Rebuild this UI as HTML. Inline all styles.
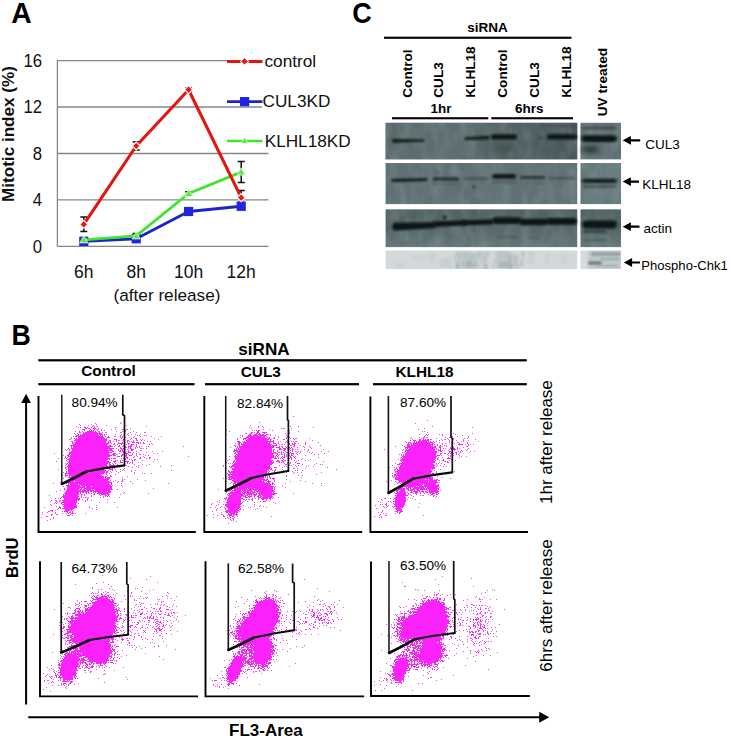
<!DOCTYPE html>
<html><head><meta charset="utf-8"><title>Figure</title>
<style>
html,body{margin:0;padding:0;background:#fff;}
body{width:732px;height:739px;overflow:hidden;font-family:"Liberation Sans",sans-serif;}
svg{display:block;font-family:"Liberation Sans",sans-serif;}
.b{font-weight:bold}
</style></head><body>
<svg width="732" height="739" viewBox="0 0 732 739">
<defs>
<filter id="bl1" x="-20%" y="-100%" width="140%" height="300%"><feGaussianBlur stdDeviation="1.1 0.9"/></filter>
<filter id="bl2" x="-20%" y="-100%" width="140%" height="300%"><feGaussianBlur stdDeviation="1.6 1.3"/></filter>
<filter id="bl3" x="-20%" y="-100%" width="140%" height="300%"><feGaussianBlur stdDeviation="3 2.2"/></filter>
<filter id="soft" x="-5%" y="-5%" width="110%" height="110%"><feGaussianBlur stdDeviation="0.45"/></filter>
<filter id="noise" x="0" y="0" width="100%" height="100%"><feTurbulence type="fractalNoise" baseFrequency="0.09 0.05" numOctaves="3" seed="4"/><feColorMatrix type="matrix" values="0 0 0 0 0.45  0 0 0 0 0.54  0 0 0 0 0.56  1.2 1.2 0 0 -0.95"/><feComposite in2="SourceGraphic" operator="in"/></filter>
</defs>
<rect width="732" height="739" fill="#fff"/>

<g id="A">
<text transform="translate(11.3,22.7) scale(0.96,1)" class="b" font-size="29.5">A</text>
<line x1="57.4" y1="60.6" x2="262" y2="60.6" stroke="#808b89" stroke-width="1.3"/>
<line x1="57.4" y1="107" x2="262" y2="107" stroke="#808b89" stroke-width="1.3"/>
<line x1="57.4" y1="153.5" x2="268.5" y2="153.5" stroke="#808b89" stroke-width="1.3"/>
<line x1="57.4" y1="199.9" x2="268.5" y2="199.9" stroke="#808b89" stroke-width="1.3"/>
<line x1="57.4" y1="246.3" x2="268.5" y2="246.3" stroke="#808b89" stroke-width="1.3"/>
<line x1="57.4" y1="60" x2="57.4" y2="246.6" stroke="#808b89" stroke-width="1.3"/>
<text transform="translate(42,66.8) scale(0.95,1)" font-size="17.6" text-anchor="end" fill="#111">16</text>
<text transform="translate(42,113.2) scale(0.95,1)" font-size="17.6" text-anchor="end" fill="#111">12</text>
<text transform="translate(42,159.7) scale(0.95,1)" font-size="17.6" text-anchor="end" fill="#111">8</text>
<text transform="translate(42,206.1) scale(0.95,1)" font-size="17.6" text-anchor="end" fill="#111">4</text>
<text transform="translate(42,252.5) scale(0.95,1)" font-size="17.6" text-anchor="end" fill="#111">0</text>
<text transform="translate(14,202) rotate(-90)" class="b" font-size="17" textLength="136" lengthAdjust="spacingAndGlyphs" fill="#111">Mitotic index (%)</text>
<text x="83.8" y="278" font-size="17.5" text-anchor="middle" fill="#111">6h</text>
<text x="136.2" y="278" font-size="17.5" text-anchor="middle" fill="#111">8h</text>
<text x="188.6" y="278" font-size="17.5" text-anchor="middle" fill="#111">10h</text>
<text x="241.2" y="278" font-size="17.5" text-anchor="middle" fill="#111">12h</text>
<text x="167" y="301" font-size="17.2" text-anchor="middle" fill="#111">(after release)</text>
<path d="M83.8 217.1V231.5M80.3 217.1h7M80.3 231.5h7" stroke="#111" stroke-width="1.5" fill="none"/>
<path d="M136.2 141.9V150.0M132.7 141.9h7M132.7 150.0h7" stroke="#111" stroke-width="1.5" fill="none"/>
<path d="M188.6 88.0V91.4M185.1 88.0h7M185.1 91.4h7" stroke="#111" stroke-width="1.5" fill="none"/>
<path d="M241.2 190.6V204.5M237.7 190.6h7M237.7 204.5h7" stroke="#111" stroke-width="1.5" fill="none"/>
<path d="M241.2 161.6V182.5M237.7 161.6h7M237.7 182.5h7" stroke="#111" stroke-width="1.5" fill="none"/>
<path d="M241.2 202.2V209.2M237.7 202.2h7M237.7 209.2h7" stroke="#111" stroke-width="1.5" fill="none"/>
<path d="M188.6 191.8V195.3M185.1 191.8h7M185.1 195.3h7" stroke="#111" stroke-width="1.5" fill="none"/>
<path d="M136.2 233.5V237.0M132.7 233.5h7M132.7 237.0h7" stroke="#111" stroke-width="1.5" fill="none"/>
<path d="M83.8 237.6V241.1M80.3 237.6h7M80.3 241.1h7" stroke="#111" stroke-width="1.5" fill="none"/>
<polyline points="83.8,241.4 136.2,238.8 188.6,211.5 241.2,206.3" fill="none" stroke="#1c22cc" stroke-width="2.9" stroke-linejoin="round" stroke-linecap="round"/>
<rect x="79.2" y="236.8" width="9.2" height="9.2" fill="#2026e0"/>
<rect x="131.6" y="234.2" width="9.2" height="9.2" fill="#2026e0"/>
<rect x="184.0" y="206.9" width="9.2" height="9.2" fill="#2026e0"/>
<rect x="236.6" y="201.7" width="9.2" height="9.2" fill="#2026e0"/>
<polyline points="83.8,239.9 136.2,235.9 188.6,193.5 241.2,172.1" fill="none" stroke="#3fe52c" stroke-width="2.8" stroke-linejoin="round" stroke-linecap="round"/>
<path d="M83.8 235.7L87.8 242.9H79.8Z" fill="#5aea45" stroke="#e9ffe0" stroke-width="0.8"/>
<path d="M136.2 231.7L140.2 238.9H132.2Z" fill="#5aea45" stroke="#e9ffe0" stroke-width="0.8"/>
<path d="M188.6 189.3L192.6 196.5H184.6Z" fill="#5aea45" stroke="#e9ffe0" stroke-width="0.8"/>
<path d="M241.2 167.9L245.2 175.1H237.2Z" fill="#5aea45" stroke="#e9ffe0" stroke-width="0.8"/>
<polyline points="83.8,224.3 136.2,146.0 188.6,89.7 241.2,197.6" fill="none" stroke="#e41410" stroke-width="3.1" stroke-linejoin="round" stroke-linecap="round"/>
<path d="M83.8 220.3L87.8 224.3L83.8 228.3L79.8 224.3Z" fill="#e41a14" stroke="#fff" stroke-width="1.1"/>
<path d="M136.2 142.0L140.2 146.0L136.2 150.0L132.2 146.0Z" fill="#e41a14" stroke="#fff" stroke-width="1.1"/>
<path d="M188.6 85.7L192.6 89.7L188.6 93.7L184.6 89.7Z" fill="#e41a14" stroke="#fff" stroke-width="1.1"/>
<path d="M241.2 193.6L245.2 197.6L241.2 201.6L237.2 197.6Z" fill="#e41a14" stroke="#fff" stroke-width="1.1"/>
<line x1="227" y1="61.4" x2="262.5" y2="61.4" stroke="#e41410" stroke-width="3"/>
<path d="M244.5 57.4l4 4l-4 4l-4-4z" fill="#e41a14" stroke="#fff" stroke-width="1.1"/>
<text x="264.5" y="67.3" font-size="17.2" fill="#111">control</text>
<line x1="227" y1="101.6" x2="262.5" y2="101.6" stroke="#1c22cc" stroke-width="2.7"/>
<rect x="240" y="97" width="9.2" height="9.2" fill="#2026e0"/>
<text x="262.5" y="107.2" font-size="17.2" fill="#111">CUL3KD</text>
<line x1="227" y1="141" x2="262.5" y2="141" stroke="#3fe52c" stroke-width="2.6"/>
<path d="M244.5 137l3.6 6.4h-7.2z" fill="#5aea45" stroke="#e9ffe0" stroke-width="0.8"/>
<text x="264.7" y="147.2" font-size="17.2" fill="#111">KLHL18KD</text>
</g>
<g id="C">
<text transform="translate(352.3,22.7) scale(0.92,1)" class="b" font-size="29.5">C</text>
<text x="487.5" y="32" class="b" font-size="13.5" text-anchor="middle">siRNA</text>
<rect x="384" y="36.7" width="187.5" height="2.1" fill="#000"/>
<text transform="translate(411.7,97.7) rotate(-90)" class="b" font-size="13.6">Control</text>
<text transform="translate(443.4,97.7) rotate(-90)" class="b" font-size="13.6">CUL3</text>
<text transform="translate(475.2,97.7) rotate(-90)" class="b" font-size="13.6">KLHL18</text>
<text transform="translate(507.0,97.7) rotate(-90)" class="b" font-size="13.6">Control</text>
<text transform="translate(538.7,97.7) rotate(-90)" class="b" font-size="13.6">CUL3</text>
<text transform="translate(570.7,97.7) rotate(-90)" class="b" font-size="13.6">KLHL18</text>
<text transform="translate(606.8,116.3) rotate(-90)" class="b" font-size="13.7">UV treated</text>
<text x="441" y="112.7" class="b" font-size="13.5" text-anchor="middle">1hr</text>
<text x="529.3" y="112.7" class="b" font-size="13.5" text-anchor="middle">6hrs</text>
<rect x="392" y="117.2" width="96.3" height="2.1" fill="#000"/>
<rect x="491.3" y="117.2" width="81.7" height="2.1" fill="#000"/>
<linearGradient id="g3" x1="0" y1="0" x2="0" y2="1"><stop offset="0" stop-color="#4f605f"/><stop offset="0.55" stop-color="#56686a"/><stop offset="1" stop-color="#637679"/></linearGradient>
<linearGradient id="g1" x1="0" y1="0" x2="1" y2="0"><stop offset="0" stop-color="#5b6d6e" stop-opacity="0.6"/><stop offset="0.35" stop-color="#617374" stop-opacity="0.7"/><stop offset="0.62" stop-color="#4c5c5e" stop-opacity="0.5"/><stop offset="1" stop-color="#46575a" stop-opacity="0.8"/></linearGradient>
<rect x="385.6" y="122.8" width="191.6" height="36.8" fill="#546566"/>
<rect x="580.5" y="122.8" width="40.5" height="36.8" fill="#5f7174"/>
<rect x="385.6" y="163" width="191.6" height="41.3" fill="#5f7174"/>
<rect x="580.5" y="163" width="40.5" height="41.3" fill="#65787b"/>
<rect x="385.6" y="209.2" width="191.6" height="37.9" fill="url(#g3)"/>
<rect x="580.5" y="209.2" width="40.5" height="37.9" fill="url(#g3)"/>
<rect x="385.6" y="250.5" width="191.6" height="18.5" fill="#d3d9db"/>
<rect x="580.5" y="250.5" width="40.5" height="18.5" fill="#d6dcde"/>
<rect x="385.6" y="122.8" width="191.6" height="36.8" fill="url(#g1)"/>
<g opacity="0.24"><rect x="385.6" y="122.8" width="191.6" height="124.3" filter="url(#noise)"/><rect x="580.5" y="122.8" width="40.5" height="124.3" filter="url(#noise)"/></g>
<rect x="380" y="159.6" width="245" height="3.4" fill="#fff"/>
<rect x="380" y="204.3" width="245" height="4.9" fill="#fff"/>
<path d="M393 139.1L424 139.4Q425.0 140.4 424 141.4L393 142.7Q391.2 140.9 393 139.1Z" fill="#0c1414" opacity="0.95" filter="url(#bl1)"/>
<path d="M465 137.3L489 135.7Q490.9 137.6 489 139.5L465 139.9Q463.7 138.6 465 137.3Z" fill="#0c1414" opacity="0.9" filter="url(#bl1)"/>
<rect x="491" y="134.2" width="26.0" height="5.4" rx="2.7" fill="#0c1414" opacity="1" filter="url(#bl1)"/>
<rect x="494" y="144.0" width="20.0" height="8" rx="4.0" fill="#0c1414" opacity="0.18" filter="url(#bl3)"/>
<rect x="538" y="136.2" width="7.0" height="2.5" rx="1.25" fill="#0c1414" opacity="0.3" filter="url(#bl1)"/>
<rect x="547" y="134.2" width="30.0" height="5.4" rx="2.7" fill="#0c1414" opacity="1" filter="url(#bl1)"/>
<rect x="540" y="125.0" width="36.0" height="2" rx="1.0" fill="#0c1414" opacity="0.25" filter="url(#bl2)"/>
<rect x="581.5" y="135.3" width="35.5" height="6.6" rx="3.3" fill="#0c1414" opacity="1" filter="url(#bl2)"/>
<rect x="582" y="126.8" width="34.0" height="2.4" rx="1.2" fill="#0c1414" opacity="0.45" filter="url(#bl2)"/>
<rect x="582" y="146.0" width="16.0" height="7" rx="3.5" fill="#0c1414" opacity="0.6" filter="url(#bl3)"/>
<path d="M392 178.7L427 178.3Q428.3 179.6 427 180.9L392 181.9Q390.4 180.3 392 178.7Z" fill="#0c1414" opacity="0.9" filter="url(#bl1)"/>
<rect x="432.5" y="177.5" width="26.5" height="3" rx="1.5" fill="#0c1414" opacity="0.75" filter="url(#bl1)"/>
<rect x="464" y="177.5" width="24.0" height="2.2" rx="1.1" fill="#0c1414" opacity="0.38" filter="url(#bl1)"/>
<rect x="492" y="174.1" width="24.0" height="4.6" rx="2.3" fill="#0c1414" opacity="0.95" filter="url(#bl1)"/>
<rect x="520" y="176.1" width="25.0" height="3" rx="1.5" fill="#0c1414" opacity="0.65" filter="url(#bl1)"/>
<rect x="548" y="177.1" width="27.0" height="2.2" rx="1.1" fill="#0c1414" opacity="0.32" filter="url(#bl1)"/>
<rect x="492" y="181.2" width="24.0" height="2" rx="1.0" fill="#0c1414" opacity="0.3" filter="url(#bl1)"/>
<rect x="432" y="183.0" width="27.0" height="2" rx="1.0" fill="#0c1414" opacity="0.18" filter="url(#bl1)"/>
<rect x="520" y="182.1" width="25.0" height="1.8" rx="0.9" fill="#0c1414" opacity="0.15" filter="url(#bl1)"/>
<rect x="582" y="178.7" width="35.0" height="4.2" rx="2.1" fill="#0c1414" opacity="0.9" filter="url(#bl2)"/>
<rect x="583" y="185.3" width="33.0" height="2.4" rx="1.2" fill="#0c1414" opacity="0.42" filter="url(#bl2)"/>
<circle cx="474" cy="187" r="1.4" fill="#1a2222" opacity="0.8" filter="url(#bl1)"/>
<circle cx="437" cy="172.5" r="1" fill="#1a2222" opacity="0.5" filter="url(#bl1)"/>
<path d="M394 222.7L434 222.2Q437.0 225.2 434 228.2L394 230.5Q390.1 226.6 394 222.7Z" fill="#0c1414" opacity="1" filter="url(#bl1)"/>
<path d="M434 221.4L466 220.1Q468.7 222.8 466 225.5L434 227.0Q431.2 224.2 434 221.4Z" fill="#0c1414" opacity="1" filter="url(#bl1)"/>
<path d="M464 220.4L492 219.2Q494.6 221.8 492 224.4L464 225.2Q461.6 222.8 464 220.4Z" fill="#0c1414" opacity="1" filter="url(#bl1)"/>
<rect x="492" y="217.3" width="29.0" height="6.6" rx="3.3" fill="#0c1414" opacity="1" filter="url(#bl1)"/>
<rect x="519" y="218.8" width="29.0" height="6.4" rx="3.2" fill="#0c1414" opacity="1" filter="url(#bl1)"/>
<rect x="546" y="218.1" width="31.0" height="6.6" rx="3.3" fill="#0c1414" opacity="1" filter="url(#bl1)"/>
<rect x="582" y="220.6" width="35.0" height="8" rx="4.0" fill="#0c1414" opacity="1" filter="url(#bl2)"/>
<rect x="583" y="230.2" width="23.0" height="2.4" rx="1.2" fill="#0c1414" opacity="0.6" filter="url(#bl2)"/>
<rect x="497" y="236.2" width="21.0" height="1.6" rx="0.8" fill="#0c1414" opacity="0.28" filter="url(#bl1)"/>
<rect x="584" y="239.2" width="24.0" height="1.6" rx="0.8" fill="#0c1414" opacity="0.3" filter="url(#bl1)"/>
<rect x="528" y="237.3" width="12.0" height="1.4" rx="0.7" fill="#0c1414" opacity="0.18" filter="url(#bl1)"/>
<rect x="399" y="242.3" width="21.0" height="1.4" rx="0.7" fill="#0c1414" opacity="0.18" filter="url(#bl1)"/>
<circle cx="444.7" cy="217.5" r="1.8" fill="#0c1414" opacity="0.9" filter="url(#bl1)"/>
<clipPath id="c4"><rect x="385.6" y="250.5" width="191.6" height="18.5"/></clipPath><g clip-path="url(#c4)">
<rect x="456" y="251" width="13" height="17" fill="#7f8d93" opacity="0.2" filter="url(#bl2)"/>
<rect x="468" y="253" width="11" height="15" fill="#7f8d93" opacity="0.24" filter="url(#bl2)"/>
<rect x="481" y="250.5" width="6" height="18" fill="#7f8d93" opacity="0.16" filter="url(#bl2)"/>
<rect x="496" y="251" width="15" height="17" fill="#7f8d93" opacity="0.26" filter="url(#bl2)"/>
<rect x="509" y="255" width="9" height="13" fill="#7f8d93" opacity="0.22" filter="url(#bl2)"/>
<rect x="499" y="262" width="12" height="6" fill="#7f8d93" opacity="0.25" filter="url(#bl2)"/>
<rect x="462" y="262" width="14" height="6" fill="#7f8d93" opacity="0.2" filter="url(#bl2)"/>
<rect x="440" y="258" width="12" height="9" fill="#7f8d93" opacity="0.12" filter="url(#bl2)"/>
<rect x="528" y="252" width="6" height="12" fill="#7f8d93" opacity="0.12" filter="url(#bl2)"/>
<rect x="412" y="256" width="22" height="4" fill="#7f8d93" opacity="0.07" filter="url(#bl2)"/>
<rect x="545" y="253" width="4" height="10" fill="#7f8d93" opacity="0.1" filter="url(#bl2)"/>
<rect x="560" y="255" width="8" height="8" fill="#7f8d93" opacity="0.07" filter="url(#bl2)"/>
<rect x="395" y="262" width="10" height="5" fill="#7f8d93" opacity="0.08" filter="url(#bl2)"/>
<rect x="430" y="252" width="5" height="12" fill="#7f8d93" opacity="0.08" filter="url(#bl2)"/>
<rect x="520" y="251" width="4" height="16" fill="#7f8d93" opacity="0.12" filter="url(#bl2)"/>
<rect x="475.3" y="252.4" width="2.3" height="2.4" fill="#7f8d93" opacity="0.21" filter="url(#bl1)"/>
<rect x="478.3" y="250.9" width="2.0" height="2.2" fill="#7f8d93" opacity="0.19" filter="url(#bl1)"/>
<rect x="457.0" y="251.5" width="1.8" height="6.1" fill="#7f8d93" opacity="0.12" filter="url(#bl1)"/>
<rect x="468.1" y="260.0" width="2.9" height="4.9" fill="#7f8d93" opacity="0.18" filter="url(#bl1)"/>
<rect x="522.3" y="250.7" width="2.7" height="3.4" fill="#7f8d93" opacity="0.13" filter="url(#bl1)"/>
<rect x="460.5" y="254.9" width="2.6" height="2.9" fill="#7f8d93" opacity="0.22" filter="url(#bl1)"/>
<rect x="498.0" y="256.0" width="2.1" height="2.3" fill="#7f8d93" opacity="0.11" filter="url(#bl1)"/>
<rect x="466.8" y="260.9" width="1.9" height="3.6" fill="#7f8d93" opacity="0.22" filter="url(#bl1)"/>
<rect x="484.6" y="254.8" width="2.6" height="5.5" fill="#7f8d93" opacity="0.15" filter="url(#bl1)"/>
<rect x="493.4" y="258.4" width="2.8" height="5.6" fill="#7f8d93" opacity="0.16" filter="url(#bl1)"/>
<rect x="522.6" y="251.9" width="1.8" height="5.8" fill="#7f8d93" opacity="0.13" filter="url(#bl1)"/>
<rect x="487.2" y="250.6" width="2.3" height="5.8" fill="#7f8d93" opacity="0.21" filter="url(#bl1)"/>
<rect x="515.0" y="255.0" width="2.4" height="5.0" fill="#7f8d93" opacity="0.22" filter="url(#bl1)"/>
<rect x="484.8" y="263.4" width="2.9" height="4.4" fill="#7f8d93" opacity="0.23" filter="url(#bl1)"/>
<rect x="456.4" y="261.2" width="2.3" height="7.0" fill="#7f8d93" opacity="0.26" filter="url(#bl1)"/>
<rect x="472.5" y="256.2" width="2.3" height="2.1" fill="#7f8d93" opacity="0.19" filter="url(#bl1)"/>
<rect x="464.1" y="251.9" width="1.1" height="5.8" fill="#7f8d93" opacity="0.13" filter="url(#bl1)"/>
<rect x="469.8" y="256.3" width="2.7" height="2.4" fill="#7f8d93" opacity="0.19" filter="url(#bl1)"/>
<rect x="491.6" y="264.1" width="2.6" height="6.3" fill="#7f8d93" opacity="0.16" filter="url(#bl1)"/>
<rect x="481.9" y="255.7" width="2.8" height="6.8" fill="#7f8d93" opacity="0.13" filter="url(#bl1)"/>
<rect x="464.7" y="253.7" width="1.5" height="4.4" fill="#7f8d93" opacity="0.22" filter="url(#bl1)"/>
<rect x="470.9" y="250.1" width="1.8" height="3.8" fill="#7f8d93" opacity="0.21" filter="url(#bl1)"/>
<rect x="520.6" y="261.0" width="2.0" height="5.1" fill="#7f8d93" opacity="0.24" filter="url(#bl1)"/>
<rect x="455.9" y="264.4" width="2.6" height="6.4" fill="#7f8d93" opacity="0.26" filter="url(#bl1)"/>
<rect x="480.3" y="256.4" width="1.2" height="5.2" fill="#7f8d93" opacity="0.11" filter="url(#bl1)"/>
<rect x="456.8" y="253.3" width="1.3" height="3.7" fill="#7f8d93" opacity="0.11" filter="url(#bl1)"/>
<rect x="452.0" y="252.4" width="1.2" height="3.8" fill="#7f8d93" opacity="0.11" filter="url(#bl1)"/>
<rect x="515.0" y="259.8" width="1.3" height="3.3" fill="#7f8d93" opacity="0.17" filter="url(#bl1)"/>
<rect x="478.2" y="252.0" width="2.7" height="7.0" fill="#7f8d93" opacity="0.19" filter="url(#bl1)"/>
<rect x="486.8" y="251.4" width="1.2" height="3.7" fill="#7f8d93" opacity="0.15" filter="url(#bl1)"/>
<rect x="511.7" y="252.6" width="1.0" height="6.8" fill="#7f8d93" opacity="0.21" filter="url(#bl1)"/>
<rect x="462.6" y="258.7" width="1.1" height="4.6" fill="#7f8d93" opacity="0.30" filter="url(#bl1)"/>
<rect x="514.2" y="261.1" width="1.5" height="3.8" fill="#7f8d93" opacity="0.13" filter="url(#bl1)"/>
<rect x="507.6" y="258.5" width="2.6" height="3.6" fill="#7f8d93" opacity="0.14" filter="url(#bl1)"/>
<rect x="510.4" y="265.8" width="2.7" height="6.0" fill="#7f8d93" opacity="0.26" filter="url(#bl1)"/>
<rect x="505.3" y="253.6" width="2.0" height="3.8" fill="#7f8d93" opacity="0.11" filter="url(#bl1)"/>
<rect x="454.0" y="254.5" width="1.5" height="5.5" fill="#7f8d93" opacity="0.29" filter="url(#bl1)"/>
<rect x="484.2" y="265.0" width="3.0" height="6.8" fill="#7f8d93" opacity="0.17" filter="url(#bl1)"/>
<rect x="467.9" y="253.6" width="1.4" height="3.0" fill="#7f8d93" opacity="0.22" filter="url(#bl1)"/>
<rect x="516.8" y="263.4" width="2.0" height="5.3" fill="#7f8d93" opacity="0.26" filter="url(#bl1)"/>
</g>
<clipPath id="c5"><rect x="580.5" y="250.5" width="40.5" height="18.5"/></clipPath><g clip-path="url(#c5)">
<rect x="588" y="250.5" width="33" height="18.5" fill="#aeb9bd" opacity="0.55" filter="url(#bl2)"/>
<rect x="591" y="252.5" width="30.0" height="3" rx="1.5" fill="#66747a" opacity="0.55" filter="url(#bl1)"/>
<rect x="588" y="261.5" width="14.0" height="3" rx="1.5" fill="#4b585e" opacity="0.75" filter="url(#bl1)"/>
<rect x="600" y="258.0" width="20.0" height="2" rx="1.0" fill="#66747a" opacity="0.4" filter="url(#bl1)"/>
<rect x="596" y="265.2" width="22.0" height="1.6" rx="0.8" fill="#66747a" opacity="0.35" filter="url(#bl1)"/>
</g>
<path d="M622.7 140.3l8.2 -4.4v3.3H640.2v2.2H630.9000000000001v3.3z" fill="#000"/>
<path d="M622.7 181.6l8.2 -4.4v3.3H639v2.2H630.9000000000001v3.3z" fill="#000"/>
<path d="M622.7 226.7l8.2 -4.4v3.3H639.5v2.2H630.9000000000001v3.3z" fill="#000"/>
<path d="M623.9 262.5l8.2 -4.4v3.3H640v2.2H632.1v3.3z" fill="#000"/>
<text x="645.3" y="148.6" font-size="13.5">CUL3</text>
<text x="642.3" y="188.8" font-size="13.5">KLHL18</text>
<text x="643.6" y="232.8" font-size="13.5">actin</text>
<text x="641.3" y="270" font-size="13.5" textLength="86.5" lengthAdjust="spacingAndGlyphs">Phospho-Chk1</text>
</g>
<g id="B">
<text transform="translate(11.6,344.9) scale(0.91,1)" class="b" font-size="29.4">B</text>
<text x="264" y="355" class="b" font-size="16.3" text-anchor="middle" textLength="51.3" lengthAdjust="spacingAndGlyphs">siRNA</text>
<rect x="38.3" y="359.2" width="488.5" height="2.2" fill="#000"/>
<rect x="38.3" y="383.1" width="156.2" height="2.2" fill="#000"/>
<rect x="205" y="383.1" width="154" height="2.2" fill="#000"/>
<rect x="373" y="383.1" width="153.8" height="2.2" fill="#000"/>
<text x="108.5" y="376.4" class="b" font-size="15.4" text-anchor="middle">Control</text>
<text x="260.8" y="376.6" class="b" font-size="15.4" text-anchor="middle">CUL3</text>
<text x="424.5" y="376.6" class="b" font-size="15.4" text-anchor="middle">KLHL18</text>
<text transform="translate(18,578) rotate(-90)" class="b" font-size="16.6">BrdU</text>
<text x="229" y="736" class="b" font-size="17">FL3-Area</text>
<text transform="translate(552.3,504) rotate(-90)" font-size="17">1hr after release</text>
<text transform="translate(552.3,671.7) rotate(-90)" font-size="17">6hrs after release</text>
<path d="M26.1 393.8l4.9 9.2h-3.9V704.5h-2V403h-3.9z" fill="#000"/>
<path d="M549.2 717.2l-10 -5.5v4.5H28.2v2H539.2v4.5z" fill="#000"/>
<path d="M93 425h1M84 427h2M87 427h1M94 427h1M85 428h2M93 428h3M82 429h3M90 429h1M94 429h1M84 430h1M89 430h1M91 430h1M93 430h1M97 430h1M125 430h1M79 431h1M87 431h7M95 431h1M83 432h1M85 432h12M99 432h1M83 433h19M78 434h1M80 434h1M82 434h16M99 434h4M76 435h3M80 435h19M100 435h1M102 435h1M75 436h2M78 436h25M108 436h1M78 437h26M107 437h3M76 438h1M78 438h27M106 438h1M121 438h1M75 439h32M114 439h3M123 439h1M136 439h1M74 440h33M109 440h2M116 440h1M127 440h2M141 440h1M76 441h30M108 441h1M110 441h1M127 441h1M133 441h1M72 442h1M74 442h32M108 442h3M118 442h1M122 442h1M132 442h3M136 442h3M143 442h1M72 443h2M75 443h34M114 443h1M118 443h5M138 443h1M73 444h35M121 444h1M128 444h1M131 444h3M70 445h37M109 445h2M119 445h1M130 445h2M71 446h1M73 446h40M125 446h1M128 446h4M136 446h1M71 447h1M73 447h37M120 447h1M128 447h1M130 447h1M68 448h1M71 448h43M120 448h2M123 448h2M130 448h2M72 449h36M109 449h3M121 449h2M131 449h3M66 450h1M72 450h41M120 450h1M122 450h1M131 450h2M71 451h38M112 451h2M119 451h2M122 451h2M128 451h1M69 452h43M123 452h3M128 452h3M69 453h40M113 453h3M124 453h4M68 454h2M71 454h39M112 454h3M122 454h2M126 454h1M67 455h2M70 455h42M113 455h3M121 455h2M129 455h3M68 456h42M117 456h3M121 456h1M126 456h1M65 457h1M70 457h38M126 457h2M140 457h1M66 458h1M69 458h41M113 458h3M127 458h1M149 458h1M67 459h41M109 459h1M69 460h38M115 460h1M134 460h1M69 461h40M113 461h3M120 461h1M125 461h4M68 462h43M114 462h1M120 462h3M127 462h1M67 463h1M69 463h39M109 463h1M66 464h1M68 464h39M109 464h2M113 464h1M68 465h39M109 465h6M67 466h41M110 466h1M68 467h37M106 467h1M65 468h1M68 468h39M108 468h2M112 468h1M68 469h36M109 469h4M123 469h1M68 470h38M112 470h1M68 471h37M106 471h2M66 472h1M68 472h37M106 472h2M65 473h39M106 473h1M65 474h1M69 474h32M102 474h1M65 475h3M69 475h33M110 475h1M65 476h1M69 476h1M71 476h33M105 476h2M68 477h36M105 477h1M107 477h3M70 478h2M73 478h31M105 478h5M68 479h41M72 480h36M122 480h1M69 481h5M75 481h35M68 482h44M68 483h41M111 483h1M68 484h1M70 484h8M79 484h31M111 484h1M66 485h14M81 485h30M67 486h14M82 486h3M86 486h5M92 486h20M67 487h18M86 487h26M64 488h1M67 488h13M81 488h1M84 488h28M67 489h12M80 489h2M83 489h2M86 489h5M92 489h1M94 489h19M66 490h15M82 490h4M87 490h7M95 490h15M66 491h23M90 491h2M93 491h14M108 491h3M65 492h14M80 492h1M82 492h2M85 492h2M88 492h1M93 492h1M95 492h1M98 492h13M64 493h15M86 493h1M94 493h1M97 493h12M63 494h1M65 494h14M99 494h1M101 494h5M107 494h3M63 495h15M81 495h1M100 495h1M105 495h2M108 495h1M62 496h17M105 496h1M107 496h1M63 497h15M64 498h16M87 498h1M64 499h16M62 500h15M78 500h1M56 501h1M59 501h1M63 501h14M55 502h1M61 502h16M56 503h1M61 503h1M64 503h12M62 504h14M64 505h13M59 506h1M63 506h14M59 507h2M64 507h13M60 508h1M62 508h13M65 509h8M50 510h3M65 510h5M71 510h1M52 511h1M64 511h4M70 511h1M72 511h1M67 512h1M69 512h2M72 512h1M68 513h1M71 513h3M51 515h1M67 515h3" stroke="#fb22fb" stroke-width="1" fill="none" transform="translate(0,0.5)" filter="url(#soft)"/>
<path d="M121 422h1M95 423h1M120 423h1M79 424h1M91 424h1M96 424h1M80 425h1M88 425h1M106 425h1M126 425h1M76 426h1M92 426h1M94 426h1M96 426h2M146 426h1M78 427h1M80 427h1M91 427h1M115 427h1M88 428h2M98 428h1M130 428h1M96 429h1M98 429h1M101 429h1M111 429h1M115 429h1M122 429h2M126 429h2M101 430h1M104 430h1M75 431h1M82 431h1M98 431h2M116 431h1M122 431h1M124 431h2M133 431h1M79 432h2M102 432h1M105 432h2M120 432h2M130 432h1M136 432h1M144 432h2M74 433h1M77 433h1M128 433h1M75 434h1M104 434h1M106 434h1M115 434h1M121 434h1M127 434h1M131 434h1M135 434h1M140 434h1M104 435h1M120 435h1M124 435h1M128 435h1M137 435h1M139 435h1M144 435h1M146 435h1M73 436h1M105 436h1M114 436h2M120 436h1M122 436h1M134 436h1M140 436h1M151 436h1M161 436h1M71 437h1M120 437h1M122 437h1M124 437h2M129 437h1M133 437h1M71 438h1M74 438h1M113 438h1M131 438h1M135 438h2M154 438h1M69 439h2M130 439h1M140 439h1M142 439h1M158 439h1M118 440h2M122 440h1M124 440h1M133 440h1M136 440h2M144 440h1M71 441h2M113 441h1M116 441h1M124 441h1M129 441h1M131 441h1M147 441h1M150 441h1M124 442h1M127 442h1M140 442h1M111 443h1M128 443h2M140 443h1M143 443h2M151 443h1M113 444h2M117 444h1M126 444h1M136 444h1M149 444h1M152 444h1M115 445h1M123 445h1M136 445h1M114 446h1M118 446h2M122 446h1M139 446h1M141 446h1M146 446h1M148 446h1M183 446h1M125 447h2M135 447h1M137 447h1M139 447h1M116 448h1M128 448h1M135 448h1M140 448h2M143 448h1M146 448h1M65 449h1M67 449h1M69 449h1M118 449h1M125 449h1M127 449h1M69 450h1M118 450h1M124 450h1M128 450h1M140 450h2M126 451h1M136 451h1M152 451h1M162 451h1M133 452h1M138 452h1M146 452h1M54 453h1M119 453h1M132 453h1M136 453h1M153 453h1M157 453h1M116 454h2M128 454h1M132 454h1M136 454h1M139 454h2M143 454h1M63 455h1M125 455h2M136 455h1M145 455h1M148 455h1M65 456h1M134 456h1M137 456h1M143 456h1M188 456h1M67 457h1M133 457h1M144 457h1M149 457h2M58 458h1M64 458h1M111 458h1M121 458h1M123 458h1M125 458h1M139 458h2M146 458h1M125 459h1M129 459h1M131 459h1M134 459h2M154 459h1M157 459h1M66 460h1M111 460h1M117 460h1M120 460h1M122 460h1M132 460h1M142 460h1M56 461h1M67 461h1M132 461h1M153 461h1M130 462h1M132 462h1M138 462h1M65 463h1M112 463h1M115 463h1M127 463h1M129 463h1M132 463h1M117 464h1M134 464h1M142 464h1M149 464h1M65 465h1M117 465h1M126 465h1M138 465h1M146 465h1M171 465h1M123 466h1M128 466h1M136 466h1M160 466h1M65 467h2M112 467h1M114 467h1M132 467h1M138 467h1M114 468h1M124 468h1M58 469h1M66 469h1M115 469h1M120 469h1M108 470h1M122 470h1M124 470h1M131 470h1M135 470h1M171 470h1M66 471h1M110 471h1M116 471h1M120 471h1M131 471h1M63 472h1M111 472h1M118 472h1M134 472h1M61 473h1M109 473h1M134 473h1M142 473h1M144 473h1M151 473h1M106 474h1M115 474h1M62 475h1M107 475h1M110 476h2M127 476h1M122 477h1M61 478h1M63 478h1M122 479h1M124 479h1M137 479h1M110 480h1M115 480h1M145 480h1M113 481h1M118 481h1M121 481h2M130 481h1M60 482h1M66 482h1M117 482h1M53 483h1M66 483h1M121 483h1M132 483h1M168 483h1M112 485h1M121 485h1M63 486h1M122 486h1M153 488h1M64 489h2M117 489h1M60 490h1M56 491h1M124 492h1M80 493h1M88 493h2M91 493h1M123 493h1M148 493h1M81 494h2M84 494h1M93 494h2M120 494h1M49 495h1M84 495h1M91 495h1M81 496h1M91 496h1M103 496h1M109 496h1M61 497h1M81 497h1M83 497h1M85 497h2M88 497h1M100 497h1M103 497h1M119 497h1M55 498h1M58 498h1M60 498h1M82 499h1M87 499h1M107 499h1M51 500h1M55 500h2M59 500h2M85 500h1M87 500h1M91 500h1M50 501h1M85 501h1M57 502h1M99 502h1M107 502h1M114 502h1M54 503h1M78 503h1M50 504h1M51 505h1M96 505h1M56 506h1M89 506h1M44 507h1M89 507h1M96 507h1M117 507h1M58 508h1M92 508h1M57 509h1M96 509h1M55 510h1M73 510h1M48 511h2M62 511h1M42 512h1M47 512h1M55 512h1M55 513h1M62 513h1M66 513h1M75 513h1M85 513h1M42 514h1M51 514h2M56 514h2M70 514h1M72 515h1M46 516h2M41 517h1M53 517h1M53 518h1M50 519h1M47 520h1" stroke="#e23fe2" stroke-width="1" stroke-opacity="0.88" fill="none" transform="translate(0,0.5)" filter="url(#soft)"/>
<path d="M38.5 396V532H195.8" stroke="#000" stroke-width="1.9" fill="none"/>
<path d="M61.8 394.8V484" stroke="#111" stroke-width="1.4" fill="none"/>
<path d="M61.8 484Q74.1 478.4 86.4 471.5" stroke="#0a0a0a" stroke-width="2.6" fill="none" stroke-linecap="round"/>
<path d="M86.4 471.5Q105.5 467.6 124.5 465.4" stroke="#0a0a0a" stroke-width="2.1" fill="none" stroke-linecap="round"/>
<path d="M124.5 465.4V415.7L122.8 414.7V394.8" stroke="#111" stroke-width="1.7" fill="none"/>
<text x="71.6" y="407" font-size="13.6">80.94%</text>
<path d="M258 430h2M257 431h2M251 432h2M257 432h2M262 432h5M250 433h2M256 433h2M259 433h1M264 433h1M249 434h2M254 434h3M258 434h3M262 434h2M266 434h3M248 435h4M253 435h5M259 435h7M247 436h15M263 436h2M287 436h1M246 437h3M250 437h15M267 437h1M269 437h1M274 437h1M289 437h1M243 438h4M248 438h19M268 438h2M243 439h1M245 439h1M247 439h22M294 439h1M246 440h22M270 440h1M273 440h1M237 441h3M244 441h1M246 441h28M286 441h1M238 442h3M243 442h25M269 442h2M273 442h1M294 442h1M238 443h2M241 443h1M243 443h27M273 443h3M289 443h1M292 443h1M294 443h2M238 444h2M241 444h31M276 444h1M292 444h3M239 445h1M242 445h29M272 445h5M290 445h2M294 445h1M235 446h1M239 446h35M279 446h1M237 447h1M239 447h35M276 447h4M282 447h1M286 447h1M289 447h1M291 447h1M238 448h1M240 448h32M279 448h2M283 448h3M287 448h2M290 448h1M292 448h1M234 449h1M236 449h1M238 449h34M279 449h3M284 449h2M288 449h2M234 450h4M239 450h33M273 450h1M283 450h2M292 450h1M233 451h2M236 451h36M273 451h1M235 452h1M237 452h35M273 452h3M290 452h1M297 452h1M238 453h36M275 453h3M281 453h1M288 453h2M291 453h3M236 454h37M277 454h1M291 454h1M293 454h1M235 455h1M237 455h37M276 455h1M278 455h1M291 455h2M234 456h40M277 456h1M282 456h1M284 456h1M290 456h1M235 457h39M275 457h1M281 457h1M283 457h2M290 457h2M294 457h1M235 458h37M274 458h3M282 458h1M291 458h1M235 459h36M283 459h1M234 460h1M236 460h37M277 460h2M281 460h2M233 461h2M236 461h36M273 461h1M276 461h4M282 461h2M233 462h1M235 462h39M279 462h1M283 462h1M234 463h39M297 463h3M233 464h39M285 464h2M232 465h38M231 466h39M230 467h2M234 467h37M274 467h3M232 468h38M271 468h1M232 469h37M270 469h2M275 469h1M228 470h1M233 470h34M268 470h1M228 471h2M231 471h37M274 471h1M229 472h38M268 472h1M230 473h1M232 473h35M228 474h38M228 475h2M232 475h34M269 475h1M229 476h35M265 476h1M269 476h1M228 477h36M229 478h1M231 478h33M267 478h1M270 478h1M272 478h3M228 479h4M233 479h32M266 479h2M273 479h1M232 480h30M263 480h4M268 480h1M233 481h31M267 481h4M234 482h31M266 482h1M268 482h2M272 482h1M233 483h3M237 483h33M272 483h2M233 484h1M235 484h36M272 484h1M233 485h38M232 486h2M236 486h1M239 486h35M233 487h1M236 487h37M274 487h1M234 488h13M248 488h6M255 488h18M231 489h1M234 489h14M249 489h24M230 490h1M232 490h9M242 490h4M247 490h5M254 490h3M258 490h16M231 491h2M234 491h8M243 491h6M250 491h3M254 491h1M256 491h19M230 492h11M242 492h1M244 492h2M247 492h4M252 492h4M257 492h1M259 492h13M273 492h1M228 493h17M246 493h8M256 493h1M258 493h19M229 494h1M231 494h12M244 494h1M247 494h5M253 494h4M259 494h16M228 495h16M245 495h3M249 495h1M251 495h1M254 495h2M258 495h3M262 495h10M229 496h13M243 496h3M248 496h4M254 496h1M257 496h2M260 496h2M263 496h10M226 497h1M228 497h13M245 497h3M249 497h1M258 497h3M262 497h10M224 498h3M228 498h15M252 498h1M258 498h1M261 498h7M269 498h2M272 498h1M225 499h1M227 499h14M262 499h2M266 499h1M270 499h1M227 500h14M245 500h1M252 500h1M227 501h14M263 501h3M226 502h15M227 503h15M225 504h16M225 505h15M226 506h15M227 507h13M228 508h11M240 508h1M228 509h10M239 509h2M226 510h13M225 511h13M226 512h2M229 512h9M228 513h1M230 513h5M236 513h1M228 514h4M233 514h5M223 515h1M229 515h3M233 515h1M236 515h1M229 516h1M232 516h2M233 519h1" stroke="#fb22fb" stroke-width="1" fill="none" transform="translate(0,0.5)" filter="url(#soft)"/>
<path d="M293 416h1M259 422h1M250 425h1M288 425h1M258 426h1M262 426h1M290 426h1M298 426h1M249 427h1M258 427h1M263 427h1M313 427h1M251 428h1M281 428h1M283 428h2M291 428h1M263 429h1M269 429h1M226 430h1M252 430h1M254 430h1M256 430h1M272 430h1M289 430h1M229 431h1M298 431h1M254 432h1M289 432h1M245 433h2M285 433h1M289 433h1M226 434h1M270 434h1M240 435h1M242 435h1M270 435h1M275 435h1M286 435h1M288 435h1M225 436h1M242 436h1M266 436h1M278 436h1M240 437h1M278 437h1M286 437h1M237 438h1M273 438h2M286 438h1M288 438h1M290 438h1M293 438h1M295 438h2M309 438h1M237 439h1M270 439h2M277 439h1M283 439h2M288 439h1M287 440h1M312 440h1M242 441h1M280 441h1M291 441h1M293 441h1M295 441h2M278 442h1M285 442h1M287 442h1M305 442h1M318 442h1M235 443h1M278 443h1M298 443h1M305 443h1M279 444h1M281 444h2M284 444h1M288 444h2M305 444h1M234 445h2M300 445h1M320 445h1M237 446h1M281 446h2M285 446h1M293 446h2M303 446h1M309 446h1M230 447h1M297 447h1M304 447h1M310 447h1M236 448h1M311 448h1M273 449h2M292 449h2M295 449h1M297 449h1M304 449h1M308 449h1M323 449h1M277 450h1M290 450h1M308 450h1M277 451h1M281 451h1M285 451h1M292 451h1M295 451h2M298 451h1M300 451h1M307 451h1M321 451h1M328 451h1M278 452h2M281 452h1M283 452h1M286 452h2M300 452h1M309 452h1M312 452h1M234 453h2M284 453h1M296 453h1M299 453h1M311 453h1M324 453h1M279 454h1M281 454h2M284 454h1M286 454h1M297 454h1M314 454h1M318 454h1M284 455h1M286 455h1M289 455h1M305 455h1M229 456h1M275 456h1M286 456h1M293 456h1M295 456h1M278 457h1M318 457h1M278 458h1M280 458h1M288 458h2M295 458h1M302 458h1M229 459h1M291 459h1M301 459h1M310 459h1M225 460h1M227 460h1M284 460h2M288 460h1M294 460h1M298 460h1M305 460h1M308 460h1M296 461h1M323 461h1M226 462h1M281 462h1M290 462h1M295 462h1M228 463h1M230 463h1M232 463h1M284 463h1M287 463h1M290 463h1M316 463h1M293 464h1M302 464h1M314 464h1M320 464h1M322 464h1M223 465h1M279 465h1M289 465h1M291 465h1M295 465h1M298 465h1M308 465h1M223 466h1M229 466h1M284 466h1M286 466h1M296 466h1M306 466h1M313 466h1M282 467h1M327 467h1M226 468h1M293 468h2M297 468h1M305 468h1M282 469h1M336 469h1M272 470h1M274 470h2M283 470h1M295 470h1M297 470h1M302 470h1M269 471h1M292 471h1M276 472h2M281 472h1M294 472h1M297 472h1M301 472h1M321 472h1M227 473h1M272 473h1M293 473h1M268 474h2M316 474h1M286 475h1M298 475h1M302 475h1M226 476h1M267 476h1M286 476h1M265 477h1M267 477h1M269 477h2M301 477h1M223 478h1M226 478h1M286 479h1M274 480h1M300 480h1M226 481h1M274 481h1M290 481h1M305 481h1M231 482h1M230 483h1M285 483h1M312 483h1M321 483h1M274 484h1M321 485h1M275 486h1M282 486h1M285 487h1M231 488h1M274 488h1M218 489h1M274 489h1M229 491h1M226 492h1M225 493h1M293 493h1M227 494h1M254 497h1M273 497h1M278 497h1M255 498h1M243 499h2M246 499h1M248 499h2M251 499h2M258 499h1M219 500h1M266 500h1M217 501h1M243 501h1M247 501h1M260 501h1M269 501h1M219 502h1M242 502h1M254 502h1M273 502h1M212 503h1M275 503h1M211 504h1M218 504h1M223 504h1M254 504h1M216 505h1M243 505h1M260 505h1M221 506h1M254 506h1M259 506h1M263 506h1M210 507h1M215 507h1M220 507h1M224 507h1M248 507h1M250 507h1M266 507h1M217 508h1M225 508h1M257 508h1M216 509h1M225 509h1M243 509h1M255 509h1M216 510h1M212 511h1M239 511h1M221 512h1M213 514h1M221 514h2M207 515h1M217 515h1M227 515h1M223 516h2M237 516h1M271 516h1M213 517h1M227 517h1M230 517h1M234 517h1M225 518h1M228 518h1M230 518h1M232 518h2M230 519h1M231 520h1M233 520h1M236 521h1M228 523h1" stroke="#e23fe2" stroke-width="1" stroke-opacity="0.88" fill="none" transform="translate(0,0.5)" filter="url(#soft)"/>
<path d="M204.3 396V532H362.2" stroke="#000" stroke-width="1.9" fill="none"/>
<path d="M225.7 396V490.7" stroke="#111" stroke-width="1.5" fill="none"/>
<path d="M225.7 490.7Q238.6 485.0 251.6 478" stroke="#0a0a0a" stroke-width="2.6" fill="none" stroke-linecap="round"/>
<path d="M251.6 478Q270.0 473.6 288.4 471" stroke="#0a0a0a" stroke-width="2.1" fill="none" stroke-linecap="round"/>
<path d="M288.4 471V420.6L287.5 419.6V396" stroke="#111" stroke-width="1.7" fill="none"/>
<text x="237" y="407.6" font-size="13.6">82.84%</text>
<path d="M426 434h1M427 435h1M424 436h1M423 438h1M419 439h2M423 439h1M425 439h1M427 439h2M413 440h3M419 440h2M422 440h7M414 441h1M416 441h1M418 441h9M428 441h1M430 441h1M433 441h1M408 442h3M413 442h2M416 442h17M408 443h1M410 443h2M413 443h17M432 443h2M459 443h1M407 444h3M411 444h1M413 444h20M458 444h5M407 445h3M411 445h20M432 445h1M440 445h1M407 446h26M434 446h2M439 446h2M451 446h2M405 447h31M439 447h2M450 447h1M452 447h2M405 448h1M407 448h1M409 448h26M440 448h1M450 448h5M406 449h1M408 449h27M438 449h1M440 449h1M451 449h1M453 449h3M405 450h30M438 450h3M454 450h1M461 450h1M405 451h1M407 451h30M440 451h2M449 451h2M452 451h1M406 452h31M449 452h1M451 452h2M405 453h31M450 453h1M456 453h1M405 454h31M440 454h1M451 454h2M403 455h1M405 455h31M437 455h3M402 456h35M401 457h1M403 457h33M448 457h1M402 458h34M437 458h1M447 458h4M401 459h34M443 459h1M400 460h34M401 461h1M403 461h32M447 461h1M402 462h33M399 463h34M397 464h3M401 464h33M400 465h35M400 466h34M399 467h36M396 468h1M399 468h36M397 469h1M399 469h32M432 469h1M394 470h1M397 470h35M395 471h37M395 472h1M397 472h34M396 473h35M432 473h2M394 474h2M397 474h32M431 474h1M434 474h1M394 475h35M430 475h4M394 476h1M396 476h1M398 476h30M429 476h1M393 477h1M395 477h38M395 478h38M395 479h30M426 479h2M429 479h4M434 479h1M436 479h2M398 480h39M399 481h29M429 481h8M398 482h2M401 482h37M397 483h1M400 483h1M402 483h34M401 484h22M424 484h12M438 484h1M400 485h2M403 485h19M424 485h15M398 486h18M417 486h1M419 486h20M398 487h1M400 487h3M406 487h1M408 487h3M412 487h1M414 487h10M425 487h1M427 487h11M399 488h6M406 488h3M410 488h1M413 488h12M426 488h13M398 489h7M407 489h2M410 489h5M416 489h3M420 489h7M428 489h9M438 489h1M396 490h3M400 490h5M408 490h5M414 490h1M417 490h3M422 490h1M427 490h1M429 490h9M396 491h2M399 491h6M411 491h1M413 491h5M419 491h1M421 491h3M425 491h2M429 491h10M397 492h9M410 492h3M415 492h3M420 492h1M423 492h1M426 492h2M429 492h5M435 492h3M395 493h11M415 493h2M430 493h1M432 493h3M436 493h1M397 494h9M416 494h1M431 494h2M436 494h2M395 495h13M396 496h9M433 496h1M395 497h11M394 498h12M395 499h11M395 500h11M393 501h13M395 502h10M386 503h1M395 503h10M394 504h11M386 505h1M395 505h9M387 506h1M394 506h10M393 507h1M396 507h7M395 508h6M396 509h6M397 510h5M395 511h3M400 511h3M397 512h1M399 512h2M399 513h1" stroke="#fb22fb" stroke-width="1" fill="none" transform="translate(0,0.5)" filter="url(#soft)"/>
<path d="M427 420h1M415 423h1M432 426h1M472 427h1M424 428h1M418 429h1M422 431h1M424 431h1M427 432h1M453 433h1M472 433h1M419 434h1M428 434h1M439 434h1M442 434h1M455 434h1M425 435h1M442 435h1M450 435h1M462 435h1M452 436h1M457 436h1M468 436h1M411 437h1M419 437h1M423 437h2M426 437h2M445 437h1M449 437h1M468 437h1M410 438h1M421 438h1M436 438h1M447 438h1M453 438h1M464 438h1M467 438h1M412 439h1M430 439h2M441 439h1M444 439h2M448 439h1M453 439h1M463 439h1M475 439h1M410 440h1M439 440h1M442 440h1M449 440h1M456 440h1M463 440h1M468 440h1M405 441h1M436 441h1M449 441h1M452 441h1M461 441h1M463 441h1M478 441h1M406 442h1M434 442h1M439 442h1M449 442h1M451 442h1M457 442h2M467 442h1M442 443h1M445 443h1M454 443h1M467 443h1M434 444h1M437 444h1M442 444h1M451 444h2M465 444h1M468 444h1M470 444h1M473 444h1M402 445h1M437 445h1M444 445h1M446 445h1M468 445h1M395 446h1M404 446h1M442 446h1M446 446h1M466 446h2M457 447h1M463 447h1M436 448h1M443 448h1M445 448h1M457 448h1M459 448h1M468 448h1M384 449h1M403 449h1M436 449h1M449 449h1M457 449h1M467 449h1M402 450h1M442 450h1M444 450h1M448 450h1M466 450h1M458 451h1M460 451h1M462 451h1M470 451h1M474 451h1M402 452h1M404 452h1M438 452h1M455 452h2M460 452h1M440 453h2M444 453h2M448 453h1M453 453h1M459 453h1M399 454h1M401 454h1M403 454h1M447 454h1M456 454h1M458 454h1M401 455h1M441 455h1M448 455h1M450 455h1M453 455h1M459 455h1M450 456h1M461 456h1M466 456h1M438 457h1M442 457h1M452 457h1M459 457h1M400 458h1M398 459h1M437 459h2M451 459h1M435 460h1M439 460h1M442 460h2M449 460h1M455 460h1M444 461h2M439 462h1M447 462h2M395 463h1M436 463h1M438 463h1M441 463h1M436 464h1M444 464h1M392 465h1M437 465h1M440 465h1M398 466h1M436 466h1M443 466h1M446 466h1M389 467h1M394 467h1M396 467h1M394 469h2M440 469h1M434 470h1M436 471h1M454 471h1M436 472h1M392 473h1M437 474h2M392 475h1M435 475h1M392 476h1M437 476h1M442 477h1M450 478h1M391 480h1M438 480h2M386 481h1M395 481h1M396 482h1M439 482h1M394 484h1M388 487h1M439 487h1M440 490h1M394 492h1M407 492h1M408 493h1M413 493h1M420 493h1M424 493h1M438 493h1M408 494h1M410 494h1M428 494h1M411 495h1M420 495h1M422 495h2M430 495h1M433 495h2M413 496h1M436 496h1M408 497h1M435 497h1M384 498h2M390 498h1M412 498h1M381 499h1M393 499h1M407 499h1M415 499h1M382 500h1M378 501h1M388 501h1M390 501h1M380 502h1M391 502h1M393 503h1M419 503h1M380 504h1M382 504h1M385 504h2M375 505h1M388 505h1M405 505h1M383 506h1M392 506h1M384 507h1M386 507h1M418 507h1M376 508h1M382 510h1M382 511h1M378 512h1M381 512h1M383 513h1M386 513h1M395 513h1M380 514h1M379 515h1M385 515h2M423 515h1M374 516h1M381 516h1M379 517h1M381 517h1" stroke="#e23fe2" stroke-width="1" stroke-opacity="0.88" fill="none" transform="translate(0,0.5)" filter="url(#soft)"/>
<path d="M370.4 396.5V532H528" stroke="#000" stroke-width="1.9" fill="none"/>
<path d="M388.4 396V493" stroke="#111" stroke-width="1.6" fill="none"/>
<path d="M388.4 493Q400.9 486.5 413.3 478.7" stroke="#0a0a0a" stroke-width="2.6" fill="none" stroke-linecap="round"/>
<path d="M413.3 478.7Q432.8 474.6 452.3 472.4" stroke="#0a0a0a" stroke-width="2.1" fill="none" stroke-linecap="round"/>
<path d="M452.3 472.4V438.3L451 437.3V396" stroke="#111" stroke-width="1.7" fill="none"/>
<text x="400" y="407.4" font-size="13.6">87.60%</text>
<path d="M92 592h1M101 593h1M93 595h1M102 595h1M104 595h1M107 595h2M96 596h1M101 596h6M108 596h1M110 596h1M95 597h3M99 597h5M105 597h3M109 597h1M92 598h2M96 598h12M146 598h1M93 599h17M111 599h2M97 600h14M112 600h2M84 601h3M91 601h1M95 601h19M92 602h22M92 603h21M114 603h3M88 604h1M93 604h21M84 605h3M92 605h24M85 606h2M91 606h23M116 606h1M88 607h27M160 607h1M76 608h4M85 608h3M89 608h25M116 608h1M75 609h1M79 609h1M85 609h32M118 609h1M159 609h1M166 609h3M78 610h1M80 610h1M85 610h30M116 610h4M160 610h1M75 611h1M77 611h4M82 611h1M85 611h1M87 611h31M74 612h2M78 612h2M81 612h3M85 612h31M117 612h1M142 612h1M152 612h1M72 613h3M78 613h3M82 613h2M85 613h30M116 613h2M140 613h3M174 613h1M75 614h41M118 614h1M140 614h2M159 614h2M168 614h1M72 615h1M75 615h41M117 615h2M126 615h1M167 615h3M71 616h2M78 616h40M131 616h1M150 616h1M71 617h3M75 617h43M120 617h1M131 617h3M144 617h1M149 617h2M153 617h1M70 618h47M119 618h3M149 618h1M151 618h3M66 619h1M71 619h2M75 619h1M77 619h41M119 619h1M155 619h3M71 620h46M124 620h1M68 621h51M149 621h1M156 621h3M160 621h1M69 622h4M74 622h41M159 622h2M70 623h46M138 623h1M156 623h2M69 624h1M71 624h44M68 625h1M71 625h45M130 625h3M163 625h1M63 626h2M68 626h49M129 626h2M135 626h1M63 627h2M68 627h48M130 627h1M158 627h1M62 628h2M69 628h45M115 628h1M157 628h3M66 629h49M116 629h1M155 629h2M159 629h3M67 630h1M69 630h46M129 630h1M156 630h1M159 630h2M67 631h49M144 631h1M67 632h48M116 632h3M65 633h4M72 633h41M114 633h2M64 634h2M67 634h1M72 634h41M67 635h5M74 635h38M113 635h1M68 636h1M70 636h3M74 636h40M62 637h1M65 637h4M70 637h2M73 637h40M63 638h2M67 638h2M71 638h43M122 638h1M70 639h40M111 639h3M121 639h3M67 640h43M112 640h1M122 640h1M66 641h1M69 641h1M72 641h38M112 641h2M69 642h3M73 642h36M110 642h4M69 643h1M72 643h1M75 643h3M79 643h31M129 643h1M71 644h1M76 644h35M71 645h40M69 646h3M74 646h3M78 646h33M116 646h3M71 647h1M73 647h1M75 647h3M79 647h31M111 647h1M71 648h7M79 648h32M112 648h1M70 649h1M73 649h1M75 649h3M80 649h31M112 649h3M70 650h1M74 650h38M113 650h2M69 651h1M71 651h42M114 651h1M66 652h2M69 652h1M71 652h5M77 652h2M80 652h32M115 652h1M65 653h7M73 653h8M82 653h30M64 654h2M67 654h43M114 654h1M65 655h12M78 655h32M111 655h1M65 656h17M85 656h27M64 657h15M83 657h26M111 657h1M64 658h16M81 658h3M88 658h20M63 659h17M81 659h4M87 659h22M113 659h1M61 660h26M89 660h20M110 660h3M60 661h19M80 661h1M82 661h2M87 661h20M62 662h16M79 662h7M90 662h3M96 662h11M110 662h3M59 663h1M61 663h18M80 663h1M82 663h1M85 663h2M89 663h1M91 663h1M96 663h6M103 663h3M58 664h2M61 664h18M86 664h2M89 664h2M93 664h1M100 664h1M104 664h1M58 665h20M79 665h1M87 665h1M92 665h1M100 665h3M61 666h19M86 666h1M91 666h3M99 666h1M58 667h2M61 667h16M78 667h1M85 667h3M90 667h3M59 668h18M88 668h2M60 669h17M60 670h18M60 671h16M58 672h18M90 672h1M60 673h17M55 674h1M57 674h1M60 674h16M55 675h2M60 675h16M56 676h1M59 676h1M62 676h11M74 676h1M50 677h1M58 677h15M74 677h2M60 678h1M63 678h10M75 678h1M63 679h10M63 680h2M67 680h1M69 680h1M52 681h1M62 681h7M70 681h3M70 682h2M63 683h3M69 683h2M63 684h1" stroke="#fb22fb" stroke-width="1" fill="none" transform="translate(0,0.5)" filter="url(#soft)"/>
<path d="M102 575h1M150 576h1M130 578h1M146 579h1M103 582h1M157 582h1M96 583h1M75 584h1M108 584h1M111 586h1M92 587h1M142 587h1M92 588h1M109 588h1M135 588h1M137 588h1M98 589h1M101 589h1M112 589h1M153 589h1M114 590h1M149 590h1M98 591h1M105 591h1M127 591h1M141 591h1M98 592h1M103 592h1M107 592h2M131 592h1M167 592h1M91 593h1M93 593h1M95 593h1M97 593h1M106 593h1M116 593h1M131 593h1M145 593h1M168 593h1M101 594h2M105 594h1M109 594h1M113 594h1M89 595h1M97 595h2M115 595h1M124 595h1M130 595h1M166 595h1M92 596h1M94 596h1M130 596h1M132 596h1M140 596h1M162 596h1M167 596h1M176 596h1M91 597h1M111 597h1M113 597h1M145 597h1M147 597h1M114 598h1M139 598h1M143 598h1M167 598h1M171 598h1M114 599h1M125 599h1M134 599h1M157 599h1M159 599h1M77 600h1M90 600h1M92 600h1M128 600h1M134 600h1M136 600h1M174 600h1M81 601h1M121 601h1M158 601h1M161 601h1M163 601h1M79 602h1M139 602h1M161 602h1M63 603h1M75 603h1M79 603h1M87 603h1M89 603h2M128 603h1M141 603h1M143 603h1M157 603h1M76 604h2M81 604h1M118 604h1M136 604h1M140 604h1M150 604h1M155 604h1M157 604h1M161 604h1M164 604h1M173 604h1M61 605h1M75 605h1M79 605h1M88 605h1M90 605h1M117 605h1M135 605h1M160 605h1M163 605h1M78 606h1M138 606h1M140 606h1M166 606h2M172 606h1M176 606h1M68 607h2M80 607h1M84 607h1M118 607h1M134 607h1M144 607h1M151 607h1M169 607h1M70 608h1M119 608h1M124 608h1M131 608h1M146 608h1M153 608h2M159 608h2M54 609h1M124 609h1M139 609h1M141 609h2M156 609h1M172 609h1M74 610h2M82 610h1M134 610h1M137 610h1M170 610h1M120 611h1M124 611h1M128 611h1M139 611h1M147 611h1M150 611h1M155 611h1M157 611h2M160 611h2M61 612h1M67 612h1M129 612h1M133 612h1M138 612h1M165 612h1M171 612h1M173 612h2M177 612h1M65 613h1M67 613h1M69 613h1M120 613h1M135 613h1M146 613h1M151 613h1M153 613h1M155 613h1M158 613h1M161 613h1M168 613h1M171 613h1M67 614h1M121 614h1M125 614h2M144 614h1M151 614h1M164 614h2M120 615h1M128 615h1M131 615h1M133 615h1M135 615h2M151 615h1M172 615h1M185 615h1M62 616h1M68 616h1M140 616h1M147 616h1M153 616h1M156 616h1M170 616h1M177 616h1M69 617h1M125 617h1M129 617h1M135 617h1M147 617h1M157 617h1M160 617h1M163 617h1M174 617h1M64 618h1M66 618h2M143 618h1M145 618h1M147 618h1M163 618h1M64 619h1M123 619h1M125 619h1M127 619h2M176 619h1M67 620h1M129 620h1M131 620h1M139 620h1M142 620h1M148 620h2M154 620h1M163 620h1M166 620h1M170 620h1M123 621h1M140 621h1M144 621h1M167 621h1M173 621h1M178 621h1M59 622h1M62 622h1M123 622h1M132 622h1M134 622h1M137 622h2M148 622h1M153 622h1M155 622h1M163 622h1M65 623h1M68 623h1M122 623h1M161 623h1M171 623h1M63 624h1M117 624h1M136 624h2M146 624h1M148 624h1M155 624h1M158 624h2M163 624h1M166 624h1M59 625h1M122 625h1M142 625h1M150 625h1M157 625h1M165 625h1M169 625h1M172 625h1M60 626h1M123 626h1M153 626h1M156 626h1M159 626h1M162 626h2M171 626h1M117 627h2M121 627h2M134 627h1M136 627h1M141 627h2M147 627h1M152 627h1M164 627h1M170 627h1M119 628h1M140 628h1M145 628h1M154 628h1M162 628h1M60 629h2M128 629h1M132 629h1M64 630h1M116 630h2M120 630h1M123 630h1M137 630h1M143 630h1M145 630h1M164 630h1M170 630h1M62 631h1M121 631h1M128 631h1M130 631h1M154 631h1M156 631h1M161 631h1M177 631h1M124 632h1M131 632h1M143 632h1M145 632h1M157 632h1M123 633h1M127 633h1M135 633h1M138 633h1M153 633h1M156 633h1M161 633h1M166 633h1M53 634h1M116 634h1M123 634h1M129 634h1M134 634h1M171 634h1M62 635h1M130 635h2M138 635h2M159 635h2M115 636h1M134 636h1M141 636h1M153 636h1M162 636h1M119 637h1M121 637h1M134 637h1M141 637h1M61 638h1M126 638h2M129 638h1M145 638h1M162 638h1M115 639h1M133 639h1M142 639h1M147 639h1M152 639h1M65 640h1M117 640h1M127 640h2M163 641h1M121 642h1M128 642h2M150 642h1M152 642h1M65 643h1M154 643h1M65 644h1M67 644h1M115 644h1M127 644h1M112 645h1M114 645h1M129 645h1M131 645h1M134 645h1M158 645h1M166 645h1M112 646h1M139 646h1M154 646h1M158 646h1M61 647h1M67 647h2M115 647h1M132 647h1M136 647h1M145 647h1M69 648h1M141 648h1M66 649h1M135 649h1M175 649h1M62 650h1M67 650h2M122 650h1M117 651h1M52 652h1M63 652h1M114 653h2M145 653h1M62 654h1M112 654h1M117 654h1M119 654h1M60 655h1M114 655h1M126 655h1M61 656h1M63 656h1M121 656h1M159 656h1M114 657h1M117 657h1M60 658h1M62 658h1M110 658h1M113 658h1M119 658h1M163 659h1M58 660h1M114 660h1M116 660h1M116 661h1M58 662h1M108 662h1M93 663h2M113 663h1M115 663h1M80 664h1M51 665h1M83 665h1M85 665h1M98 665h1M105 665h1M82 666h1M89 666h1M96 666h1M106 666h1M47 667h1M82 667h1M99 667h1M102 667h1M104 667h1M109 667h1M123 667h1M51 668h1M79 668h2M84 668h1M49 669h1M53 669h1M96 669h1M54 670h1M58 670h1M84 670h2M88 670h1M104 670h1M114 670h1M53 671h1M56 671h1M90 671h2M54 672h1M85 672h1M43 673h1M55 673h1M105 673h1M47 674h1M103 674h2M46 675h1M58 675h1M45 676h1M49 676h1M51 676h2M76 676h1M54 677h1M56 677h1M126 677h1M51 678h1M77 678h1M98 678h1M53 679h1M60 679h1M127 679h1M44 680h1M47 680h2M58 680h1M60 680h1M44 681h1M51 682h1M53 682h1M104 682h1M48 683h1M61 683h1M78 683h1M61 684h1M66 684h1M68 684h1M74 684h1M52 685h1M58 685h1M61 685h1M64 685h1M68 685h1M66 686h1M46 687h1M65 687h1M66 688h1M43 689h1M50 691h1" stroke="#e23fe2" stroke-width="1" stroke-opacity="0.88" fill="none" transform="translate(0,0.5)" filter="url(#soft)"/>
<path d="M40 561.3V696.4H198" stroke="#000" stroke-width="1.9" fill="none"/>
<path d="M61.2 562V652.6" stroke="#111" stroke-width="1.7" fill="none"/>
<path d="M61.2 652.6Q75.3 646.9 89.5 640" stroke="#0a0a0a" stroke-width="2.6" fill="none" stroke-linecap="round"/>
<path d="M89.5 640Q108.8 636.5 128.1 634.7" stroke="#0a0a0a" stroke-width="2.1" fill="none" stroke-linecap="round"/>
<path d="M128.1 634.7V584.9L126.8 583.9V562" stroke="#111" stroke-width="1.7" fill="none"/>
<text x="71.5" y="572.6" font-size="13.6">64.73%</text>
<path d="M273 595h1M266 596h1M260 597h1M265 597h2M268 597h2M266 598h4M272 598h2M256 599h1M265 599h2M268 599h4M273 599h1M255 600h2M261 600h1M263 600h11M275 600h1M277 600h1M256 601h2M259 601h16M276 601h1M255 602h20M257 603h19M256 604h21M253 605h25M255 606h24M253 607h24M278 607h2M329 607h1M254 608h24M254 609h25M250 610h1M252 610h27M312 610h1M248 611h2M251 611h27M330 611h2M248 612h2M251 612h30M319 612h1M330 612h1M243 613h1M248 613h30M279 613h2M314 613h1M324 613h3M331 613h1M244 614h1M249 614h29M279 614h1M313 614h2M326 614h2M249 615h30M313 615h2M327 615h1M243 616h2M249 616h31M312 616h2M317 616h1M242 617h37M316 617h3M321 617h1M243 618h2M246 618h32M318 618h1M320 618h2M244 619h34M318 619h3M323 619h2M239 620h1M242 620h1M244 620h36M319 620h1M321 620h2M324 620h1M237 621h3M241 621h1M243 621h37M305 621h2M315 621h1M237 622h1M240 622h1M242 622h35M278 622h1M305 622h2M328 622h1M240 623h36M327 623h2M237 624h1M241 624h35M238 625h2M241 625h34M236 626h39M313 626h1M237 627h37M275 627h2M235 628h40M276 628h1M239 629h36M235 630h38M296 630h1M232 631h1M236 631h38M230 632h3M236 632h1M238 632h37M231 633h1M233 633h2M237 633h36M232 634h1M234 634h1M236 634h1M238 634h35M233 635h1M235 635h37M234 636h3M238 636h33M235 637h2M238 637h2M241 637h29M273 637h1M235 638h34M237 639h35M274 639h1M239 640h1M241 640h29M234 641h3M238 641h34M240 642h1M242 642h1M244 642h28M238 643h1M240 643h1M242 643h1M245 643h28M237 644h3M241 644h9M251 644h21M274 644h1M237 645h2M240 645h2M243 645h3M247 645h2M250 645h3M254 645h20M239 646h1M243 646h5M250 646h24M241 647h3M246 647h7M254 647h20M241 648h1M247 648h2M251 648h20M272 648h1M242 649h4M247 649h5M253 649h19M273 649h1M241 650h4M246 650h1M248 650h27M238 651h2M241 651h2M244 651h3M249 651h4M254 651h19M274 651h1M237 652h3M241 652h3M245 652h2M249 652h4M254 652h20M238 653h2M242 653h8M251 653h20M272 653h2M239 654h4M246 654h1M249 654h1M251 654h1M253 654h20M234 655h1M237 655h1M240 655h3M244 655h3M249 655h3M253 655h18M233 656h2M236 656h6M243 656h2M249 656h23M234 657h13M251 657h21M234 658h13M249 658h22M233 659h13M248 659h4M254 659h18M232 660h14M247 660h2M251 660h1M253 660h15M269 660h1M232 661h10M243 661h1M245 661h5M251 661h17M231 662h11M243 662h1M245 662h7M253 662h1M255 662h12M268 662h3M230 663h13M244 663h2M247 663h3M251 663h3M255 663h10M266 663h5M231 664h13M248 664h5M254 664h1M256 664h1M258 664h1M261 664h5M268 664h1M230 665h13M250 665h1M255 665h2M258 665h3M262 665h2M265 665h3M229 666h15M250 666h4M255 666h1M258 666h1M261 666h7M228 667h14M254 667h1M258 667h2M262 667h2M267 667h1M227 668h14M257 668h2M260 668h2M264 668h1M268 668h1M228 669h13M247 669h3M262 669h2M226 670h1M228 670h14M247 670h1M263 670h2M226 671h16M227 672h13M244 672h1M226 673h14M227 674h13M228 675h10M227 676h12M227 677h11M226 678h12M227 679h9M214 680h3M229 680h7M227 681h6M229 682h3M228 683h2M231 683h3M227 684h3M233 684h1M228 685h1" stroke="#fb22fb" stroke-width="1" fill="none" transform="translate(0,0.5)" filter="url(#soft)"/>
<path d="M304 579h1M317 588h1M251 590h1M274 590h1M266 591h1M276 591h1M329 591h1M264 592h1M265 593h1M266 594h1M269 594h1M272 594h2M288 594h1M266 595h1M275 595h1M255 596h1M264 596h1M272 596h1M276 596h1M314 596h1M241 597h1M275 597h1M280 597h1M259 598h1M261 598h1M263 598h2M279 598h1M247 599h1M275 599h1M318 599h1M280 600h1M282 600h1M317 600h1M322 600h1M339 600h1M236 601h1M246 601h1M253 601h1M278 601h1M305 601h1M320 601h1M276 602h1M279 602h2M298 602h1M313 602h1M334 602h1M244 603h1M283 603h2M324 603h1M319 604h2M323 604h1M331 604h1M333 604h1M337 604h1M249 605h1M279 605h1M309 605h1M325 605h1M238 606h1M249 606h1M281 606h1M283 606h1M313 606h1M323 606h1M328 606h2M334 606h1M235 607h1M307 607h1M334 607h1M343 607h1M249 608h1M251 608h2M326 608h1M330 608h1M280 609h1M309 609h1M312 609h1M317 609h1M320 609h1M322 609h1M327 609h1M330 609h1M280 610h1M299 610h1M309 610h1M318 610h1M320 610h1M323 610h1M334 610h1M240 611h1M281 611h1M287 611h1M292 611h1M296 611h1M300 611h1M306 611h1M311 611h2M317 611h1M327 611h2M295 612h1M308 612h1M313 612h2M316 612h1M332 612h1M336 612h1M240 613h1M245 613h2M303 613h1M310 613h1M318 613h1M320 613h1M329 613h1M236 614h1M242 614h1M282 614h1M305 614h2M321 614h1M331 614h1M337 614h1M242 615h1M247 615h1M282 615h1M286 615h1M291 615h1M311 615h1M317 615h1M319 615h2M235 616h1M323 616h1M325 616h1M281 617h1M286 617h1M298 617h1M305 617h1M307 617h1M311 617h1M314 617h1M328 617h1M337 617h1M234 618h1M240 618h1M281 618h1M283 618h1M305 618h1M325 618h1M233 619h1M238 619h1M240 619h1M242 619h1M286 619h1M290 619h1M300 619h1M315 619h1M327 619h1M332 619h1M338 619h1M341 619h1M235 620h1M292 620h2M328 620h2M333 620h1M281 621h1M284 621h1M297 621h2M303 621h1M333 621h1M289 622h1M294 622h1M299 622h1M314 622h2M322 622h1M324 622h1M326 622h1M330 622h1M233 623h1M236 623h1M238 623h1M279 623h1M281 623h1M290 623h1M294 623h1M300 623h1M302 623h1M304 623h1M311 623h1M319 623h1M322 623h1M331 623h1M294 624h1M299 624h1M309 624h1M313 624h1M230 625h1M276 625h1M279 625h1M282 625h1M310 625h1M315 625h1M323 625h1M326 625h1M230 626h1M233 626h1M278 626h1M319 626h1M233 627h1M286 627h1M296 627h1M313 627h2M330 627h1M334 627h1M231 628h1M309 628h1M317 628h1M281 629h1M286 629h1M289 629h1M295 629h2M305 629h2M310 629h1M227 630h1M229 630h1M275 630h1M277 630h1M279 630h1M285 630h1M289 630h1M293 630h1M300 630h1M340 630h1M234 631h1M281 631h1M301 631h1M283 632h1M292 632h1M299 632h1M296 633h1M298 633h1M229 634h1M299 634h1M305 634h1M311 634h1M318 634h1M273 635h1M281 635h1M230 636h1M292 636h1M233 638h1M273 638h2M282 638h1M276 639h1M296 639h1M276 640h1M283 640h1M286 640h1M280 642h1M287 643h1M233 644h1M275 645h2M304 645h1M235 646h1M296 646h1M237 647h1M239 647h1M302 647h1M275 648h1M290 648h1M239 649h2M277 649h1M282 649h1M232 651h1M287 651h1M276 652h1M233 653h1M235 653h1M276 653h1M233 654h1M235 654h1M274 654h1M277 655h1M247 656h1M273 656h1M231 659h1M273 659h1M276 659h1M224 660h1M229 660h1M274 661h1M295 663h1M229 664h1M244 665h2M271 665h1M289 666h1M224 667h2M248 667h1M269 667h1M254 668h1M226 669h1M245 669h1M251 669h1M265 669h1M259 670h1M267 670h1M271 670h1M221 671h1M243 671h1M245 671h1M253 671h1M255 671h2M259 671h1M253 672h1M242 673h1M246 673h1M261 673h1M217 675h1M222 675h1M226 675h1M222 677h2M247 677h1M210 678h1M220 678h1M224 678h1M212 680h1M221 680h1M224 680h1M226 680h1M237 681h1M236 683h1M213 684h1M217 684h1M221 684h1M259 684h1M213 685h1M239 685h1M215 686h1M217 686h1M219 686h1M225 686h1M219 687h1M223 687h1M228 688h1" stroke="#e23fe2" stroke-width="1" stroke-opacity="0.88" fill="none" transform="translate(0,0.5)" filter="url(#soft)"/>
<path d="M205.5 561.3V696.4H364.2" stroke="#000" stroke-width="1.9" fill="none"/>
<path d="M228.3 563.4V650" stroke="#111" stroke-width="1.6" fill="none"/>
<path d="M228.3 650Q241.2 644.4 254 637.5" stroke="#0a0a0a" stroke-width="2.6" fill="none" stroke-linecap="round"/>
<path d="M254 637.5Q274.1 633.0 294.2 630.3" stroke="#0a0a0a" stroke-width="2.1" fill="none" stroke-linecap="round"/>
<path d="M294.2 630.3V583L292.6 582V563.4" stroke="#111" stroke-width="1.7" fill="none"/>
<text x="238" y="572.6" font-size="13.6">62.58%</text>
<path d="M436 595h1M426 597h1M423 598h3M437 598h1M439 598h2M479 598h1M428 599h1M431 599h2M434 599h4M439 599h2M444 599h1M422 600h1M427 600h3M431 600h6M438 600h1M422 601h2M426 601h1M428 601h12M423 602h1M425 602h15M441 602h3M420 603h22M443 603h2M422 604h23M413 605h1M420 605h1M422 605h22M420 606h25M417 607h30M411 608h4M418 608h27M446 608h3M412 609h1M414 609h33M448 609h1M408 610h1M417 610h28M410 611h1M412 611h35M409 612h3M413 612h36M480 612h1M485 612h1M400 613h3M404 613h3M410 613h1M413 613h1M416 613h30M448 613h1M477 613h1M404 614h1M412 614h1M414 614h33M396 615h1M404 615h1M409 615h39M400 616h1M402 616h3M408 616h42M482 616h1M398 617h2M401 617h4M406 617h1M408 617h41M477 617h1M490 617h1M398 618h2M401 618h46M476 618h1M478 618h1M398 619h2M401 619h1M403 619h1M405 619h44M475 619h4M397 620h2M400 620h49M476 620h1M480 620h1M398 621h2M403 621h47M478 621h1M480 621h2M400 622h49M479 622h1M397 623h53M474 623h1M477 623h1M480 623h1M397 624h3M401 624h46M460 624h1M473 624h1M400 625h48M473 625h3M478 625h1M480 625h1M397 626h1M402 626h46M449 626h3M473 626h1M475 626h1M484 626h1M397 627h5M403 627h44M450 627h1M480 627h1M483 627h2M393 628h1M396 628h1M399 628h49M479 628h3M396 629h2M401 629h45M447 629h1M397 630h2M400 630h1M402 630h44M395 631h3M399 631h46M446 631h1M469 631h1M471 631h2M478 631h1M397 632h1M399 632h1M401 632h45M469 632h2M472 632h2M475 632h1M487 632h1M397 633h2M400 633h45M479 633h2M397 634h48M471 634h3M478 634h3M488 634h1M396 635h2M400 635h41M442 635h2M471 635h1M473 635h1M395 636h1M397 636h1M399 636h42M442 636h2M475 636h1M399 637h1M401 637h40M443 637h1M451 637h1M474 637h2M399 638h4M404 638h40M475 638h2M400 639h6M407 639h2M411 639h31M399 640h3M403 640h2M406 640h4M411 640h1M414 640h3M418 640h3M422 640h18M441 640h1M402 641h8M411 641h1M413 641h1M415 641h3M419 641h1M421 641h1M423 641h17M403 642h1M405 642h2M409 642h4M414 642h1M416 642h2M420 642h17M438 642h4M485 642h1M411 643h2M414 643h1M416 643h2M419 643h2M422 643h18M441 643h1M443 643h1M410 644h5M416 644h1M422 644h22M400 645h1M406 645h2M410 645h1M412 645h4M417 645h4M422 645h19M407 646h4M415 646h5M421 646h22M407 647h1M410 647h1M412 647h5M418 647h1M420 647h1M422 647h20M407 648h2M413 648h3M417 648h25M443 648h2M404 649h3M408 649h2M413 649h1M416 649h2M420 649h26M406 650h4M412 650h3M417 650h24M442 650h1M444 650h1M478 650h1M402 651h3M407 651h1M412 651h3M416 651h1M420 651h24M477 651h1M403 652h1M409 652h4M414 652h5M420 652h21M476 652h1M478 652h1M410 653h7M418 653h1M420 653h24M400 654h2M403 654h1M406 654h1M411 654h2M414 654h28M446 654h1M398 655h3M402 655h6M409 655h1M413 655h1M415 655h28M444 655h4M396 656h4M402 656h1M404 656h1M406 656h1M412 656h3M416 656h27M445 656h1M397 657h1M399 657h2M402 657h2M405 657h4M412 657h5M418 657h24M396 658h1M398 658h1M400 658h7M410 658h1M414 658h1M416 658h2M419 658h20M440 658h1M395 659h13M409 659h4M414 659h25M440 659h1M394 660h2M398 660h11M410 660h2M413 660h5M419 660h3M423 660h17M441 660h2M394 661h1M396 661h14M411 661h2M414 661h1M417 661h1M419 661h19M440 661h1M442 661h2M395 662h13M411 662h1M418 662h1M421 662h2M424 662h12M395 663h13M409 663h1M411 663h1M414 663h1M417 663h1M419 663h4M424 663h2M427 663h5M434 663h2M394 664h25M421 664h1M423 664h7M431 664h1M434 664h4M395 665h14M411 665h2M416 665h1M421 665h2M424 665h2M427 665h1M429 665h3M437 665h1M392 666h17M411 666h1M413 666h3M418 666h1M422 666h1M424 666h1M428 666h2M435 666h2M392 667h15M408 667h1M414 667h1M416 667h3M434 667h1M393 668h15M409 668h2M393 669h14M409 669h1M415 669h3M393 670h17M393 671h13M394 672h12M392 673h14M388 674h2M391 674h14M389 675h2M393 675h11M390 676h1M395 676h10M393 677h11M386 678h1M392 678h12M394 679h10M386 680h1M395 680h7M403 680h1M399 681h2M395 682h7M401 683h1" stroke="#fb22fb" stroke-width="1" fill="none" transform="translate(0,0.5)" filter="url(#soft)"/>
<path d="M442 576h1M471 578h1M435 579h1M402 582h1M438 584h1M404 586h2M473 586h1M415 589h1M417 589h1M492 589h1M418 590h1M424 590h1M439 590h1M487 590h1M494 590h1M434 592h1M485 592h1M438 593h1M481 593h1M434 594h1M436 594h2M442 594h1M450 594h1M455 594h1M422 595h1M434 595h1M440 595h1M447 595h1M426 596h2M429 596h1M476 596h1M430 597h1M433 597h1M436 597h2M475 597h1M484 597h1M444 598h1M408 599h1M414 599h1M421 599h1M467 599h1M479 599h2M482 599h1M490 599h1M496 599h1M416 600h1M424 600h1M443 600h2M454 600h1M463 600h1M480 601h1M415 603h1M416 604h1M456 604h1M471 604h2M416 605h1M418 605h1M466 605h2M473 605h2M476 605h1M479 605h1M481 605h2M485 605h1M399 606h1M406 606h1M412 606h2M454 606h1M487 606h1M490 606h1M400 607h1M403 607h1M415 607h1M449 607h2M464 607h1M467 607h1M471 607h1M475 607h1M480 607h1M489 607h1M477 608h1M480 608h1M485 608h2M488 608h1M410 609h1M450 609h1M460 609h1M465 609h1M478 609h1M480 609h1M504 609h1M452 610h2M461 610h1M465 610h1M471 610h1M473 610h1M488 610h2M389 611h1M400 611h1M404 611h1M407 611h2M469 611h1M476 611h1M481 611h1M492 611h1M450 612h2M456 612h1M459 612h1M462 612h1M487 612h1M456 613h1M473 613h1M479 613h2M484 613h2M490 613h2M395 614h1M397 614h1M408 614h1M449 614h2M457 614h1M461 614h1M476 614h2M481 614h1M482 615h2M397 616h1M486 616h1M490 616h2M453 617h1M455 617h1M461 617h1M467 617h1M475 617h1M480 617h1M485 617h1M452 618h1M458 618h1M470 618h1M394 619h1M396 619h1M458 619h1M460 619h1M467 619h1M470 619h1M473 619h1M480 619h1M486 619h1M488 619h1M492 619h1M450 620h1M452 620h1M462 620h2M466 620h1M473 620h1M482 620h1M485 620h1M452 621h1M470 621h1M485 621h1M488 621h1M393 622h1M396 622h1M453 622h1M459 622h1M462 622h1M473 622h1M475 622h1M477 622h1M485 622h1M457 623h1M460 623h1M466 623h1M487 623h1M386 624h1M391 624h1M394 624h1M450 624h1M453 624h1M477 624h2M480 624h2M483 624h1M499 624h1M394 625h1M396 625h1M459 625h2M462 625h1M484 625h1M487 625h1M391 626h1M453 626h2M468 626h2M480 626h1M482 626h1M392 627h1M394 627h1M470 627h1M475 627h1M477 627h1M491 627h1M495 627h1M470 628h1M485 628h1M487 628h1M466 629h1M469 629h1M477 629h1M482 629h1M492 629h1M447 630h1M459 630h1M463 630h1M478 630h2M483 630h1M485 630h1M456 631h1M467 631h1M475 631h2M483 631h1M487 631h1M491 631h1M496 631h1M394 632h1M447 632h1M392 633h1M447 633h1M477 633h1M487 633h2M490 633h1M493 633h1M381 634h1M453 634h1M469 634h1M483 634h1M485 634h1M387 635h1M393 635h2M445 635h1M447 635h1M476 635h1M389 636h1M450 636h2M459 636h1M467 636h1M479 636h2M493 636h1M496 636h1M391 637h1M478 637h1M396 638h1M451 638h1M455 638h1M470 638h2M478 638h1M488 638h1M398 639h1M449 639h1M459 639h1M467 639h1M472 639h1M457 640h1M460 640h1M471 640h1M482 640h1M397 641h2M462 641h1M467 641h1M472 641h1M475 641h1M480 641h1M484 641h1M486 641h1M488 641h1M491 641h1M400 642h1M473 642h1M479 642h1M391 643h1M401 643h1M407 643h1M452 643h1M474 643h1M476 643h1M484 643h1M402 644h2M408 644h1M454 644h1M463 644h1M473 644h1M481 644h1M444 645h2M458 645h1M474 645h1M479 645h1M400 646h2M404 647h1M445 647h1M467 647h1M485 647h1M456 648h1M486 648h1M488 648h1M481 649h1M489 649h1M381 650h1M446 650h1M449 650h1M470 650h1M482 650h1M486 650h1M463 651h1M470 651h1M475 651h1M479 651h1M389 652h1M401 652h1M497 652h1M394 653h1M403 653h1M405 653h2M456 653h1M470 653h1M478 653h1M409 654h1M454 655h1M476 655h1M483 655h1M490 655h1M409 656h2M473 656h1M443 657h1M446 657h1M390 658h1M448 658h1M467 658h1M444 660h1M475 661h1M414 662h1M386 663h1M393 663h1M438 663h1M390 665h2M465 665h1M433 666h1M411 667h1M427 667h1M430 667h1M437 667h1M443 667h1M421 668h1M427 668h1M432 668h1M438 668h1M413 669h1M432 669h1M434 669h1M437 669h1M488 669h1M423 670h1M436 670h1M380 671h1M390 671h1M429 671h1M408 672h1M427 672h1M385 673h1M387 673h1M428 673h1M423 675h1M453 675h1M392 676h1M408 676h1M380 677h1M430 677h2M384 678h1M428 678h1M386 679h2M390 679h1M441 679h1M379 680h1M383 680h1M391 680h1M393 680h1M436 680h1M374 681h1M381 681h1M387 681h1M403 681h1M391 682h1M391 683h1M418 683h1M422 683h1M380 684h1M398 684h1M374 685h1M386 685h1M396 686h1M384 688h1M375 690h1M381 690h1M412 690h1" stroke="#e23fe2" stroke-width="1" stroke-opacity="0.88" fill="none" transform="translate(0,0.5)" filter="url(#soft)"/>
<path d="M371 561.4V696H530" stroke="#000" stroke-width="1.9" fill="none"/>
<path d="M389 561V653" stroke="#111" stroke-width="1.5" fill="none"/>
<path d="M389 653Q401.8 646.8 414.6 639.3" stroke="#0a0a0a" stroke-width="2.6" fill="none" stroke-linecap="round"/>
<path d="M414.6 639.3Q434.7 635.2 454.8 633" stroke="#0a0a0a" stroke-width="2.1" fill="none" stroke-linecap="round"/>
<path d="M454.8 633V599.6L453.7 598.6V561" stroke="#111" stroke-width="1.7" fill="none"/>
<text x="400" y="570.2" font-size="13.6">63.50%</text>
</g>
</svg></body></html>
